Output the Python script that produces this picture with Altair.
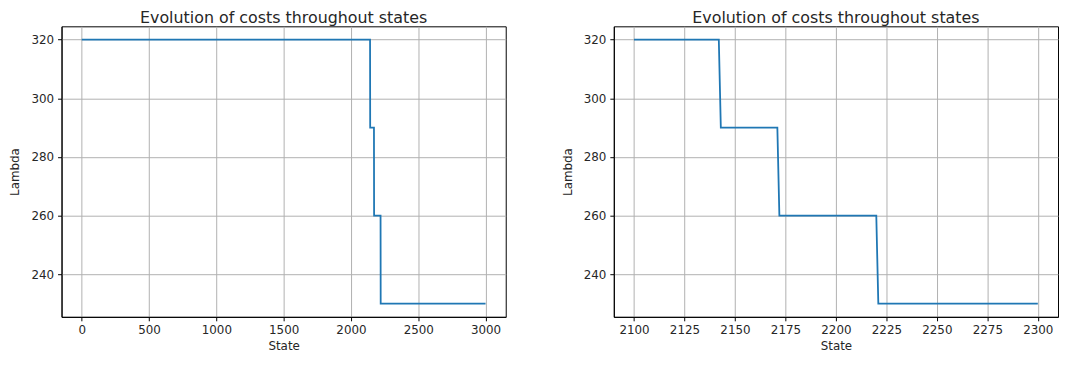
import altair as alt
import pandas as pd

# Breakpoints of the step curve (full run)
state_full = [0, 2142, 2143, 2171, 2172, 2220, 2221, 3000]
lambda_full = [320, 320, 290, 290, 260, 260, 230, 230]

# Breakpoints of the zoomed window
state_zoom = [2100, 2142, 2143, 2171, 2172, 2220, 2221, 2300]
lambda_zoom = [320, 320, 290, 290, 260, 260, 230, 230]

x_ticks_full = [0, 500, 1000, 1500, 2000, 2500, 3000]
x_ticks_zoom = [2100, 2125, 2150, 2175, 2200, 2225, 2250, 2275, 2300]
y_ticks = [240, 260, 280, 300, 320]

TITLE = "Evolution of costs throughout states"
FONT = "DejaVu Sans"
TXT = "#262626"


def panel(xs, ys, xdom, xticks):
    df = pd.DataFrame({"State": xs, "Lambda": ys})
    return (
        alt.Chart(df, title=alt.Title(TITLE, fontSize=16, fontWeight="normal",
                                      font=FONT, color=TXT, offset=0))
        .mark_line(color="#1f77b4", strokeWidth=1.8)
        .encode(
            x=alt.X("State:Q",
                    scale=alt.Scale(domain=xdom, nice=False, zero=False),
                    axis=alt.Axis(values=xticks, format="d", title="State")),
            y=alt.Y("Lambda:Q",
                    scale=alt.Scale(domain=[225.5, 324.5], nice=False, zero=False),
                    axis=alt.Axis(values=y_ticks, format="d", title="Lambda")),
            order=alt.Order("State:Q"),
        )
        .properties(width=448, height=293)
    )


left = panel(state_full, lambda_full, [-150, 3150], x_ticks_full)
right = panel(state_zoom, lambda_zoom, [2090, 2310], x_ticks_zoom)

chart = (
    alt.hconcat(left, right, spacing=54)
    .properties(padding=0)
    .configure_view(stroke="black", strokeWidth=1)
    .configure_axis(
        grid=True,
        gridColor="#b0b0b0",
        gridWidth=1,
        domain=True,
        domainColor="black",
        domainWidth=1,
        tickColor="black",
        tickSize=4,
        tickWidth=1,
        labelFont=FONT,
        labelFontSize=12,
        labelColor=TXT,
        labelPadding=4,
        titleFont=FONT,
        titleFontSize=12,
        titleFontWeight="normal",
        titleColor=TXT,
    )
    .configure_axisY(titlePadding=9)
    .configure_axisX(titlePadding=5)
)

chart.save("out.html", embed_options={"renderer": "svg", "actions": False})
